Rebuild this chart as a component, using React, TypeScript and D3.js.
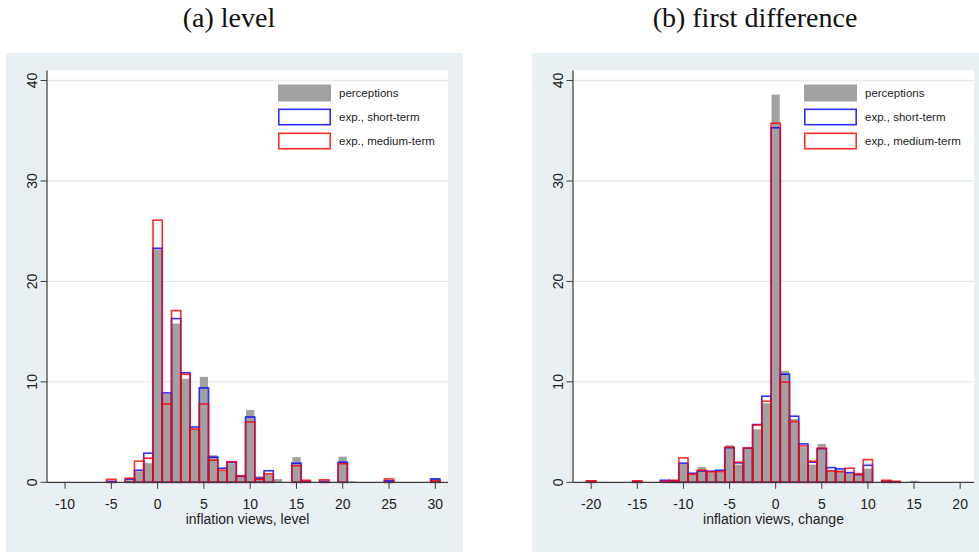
import { useEffect, useRef } from "react";
import * as d3 from "d3";

// level histogram (percent), bins centred on integers
const levelBins = [-5, -4, -3, -2, -1, 0, 1, 2, 3, 4, 5, 6, 7, 8, 9, 10, 11, 12, 13, 14, 15, 16, 17, 18, 19, 20, 21, 22, 23, 24, 25, 26, 27, 28, 29, 30];
const levelPerceptions = [0, 0, 0.2, 1.1, 1.9, 23.2, 8.8, 15.8, 10.3, 5.3, 10.5, 2.7, 1.15, 1.9, 0.55, 7.2, 0.6, 0.8, 0.33, 0, 2.5, 0.1, 0, 0, 0, 2.55, 0.1, 0, 0, 0, 0.15, 0, 0, 0, 0, 0.43];
const levelShort = [0.1, 0, 0.3, 1.2, 2.9, 23.3, 8.9, 16.3, 10.9, 5.5, 9.4, 2.5, 1.4, 2.0, 0.6, 6.5, 0.4, 1.15, 0, 0, 1.9, 0.1, 0, 0.1, 0, 2.0, 0, 0, 0, 0, 0.15, 0, 0, 0, 0, 0.33];
const levelMedium = [0.3, 0, 0.4, 2.1, 2.4, 26.1, 7.8, 17.1, 10.75, 5.3, 7.8, 2.2, 1.2, 2.05, 0.65, 6.0, 0.3, 0.85, 0, 0, 1.65, 0.2, 0, 0.25, 0, 1.85, 0, 0, 0, 0, 0.33, 0, 0, 0, 0, 0.15];
const levelTicks = [-10, -5, 0, 5, 10, 15, 20, 25, 30];

// first-difference histogram
const changeBins = [-20, -19, -18, -17, -16, -15, -14, -13, -12, -11, -10, -9, -8, -7, -6, -5, -4, -3, -2, -1, 0, 1, 2, 3, 4, 5, 6, 7, 8, 9, 10, 11, 12, 13, 14, 15, 16, 17, 18, 19, 20];
const changePerceptions = [0, 0, 0, 0, 0, 0, 0, 0, 0.1, 0.1, 1.83, 0.73, 1.53, 0.96, 1.0, 3.69, 1.76, 3.35, 5.28, 7.87, 38.6, 11.1, 6.3, 3.5, 1.76, 3.82, 1.23, 1.2, 0.9, 0.96, 1.36, 0, 0.1, 0, 0, 0.15, 0, 0, 0, 0, 0];
const changeShort = [0.1, 0, 0, 0, 0, 0.05, 0, 0, 0.2, 0.15, 1.9, 0.9, 1.13, 1.1, 1.2, 3.45, 1.93, 3.39, 5.75, 8.57, 35.3, 10.76, 6.58, 3.82, 2.0, 3.35, 1.46, 1.33, 0.96, 0.76, 1.69, 0, 0.1, 0.05, 0, 0, 0, 0, 0, 0, 0];
const changeMedium = [0.15, 0, 0, 0, 0, 0.15, 0, 0, 0.1, 0.2, 2.43, 0.8, 1.2, 1.03, 1.06, 3.49, 2.0, 3.42, 5.71, 8.07, 35.75, 9.97, 6.05, 3.62, 2.09, 3.39, 1.13, 1.06, 1.4, 0.8, 2.26, 0, 0.2, 0.1, 0, 0, 0, 0, 0, 0, 0];
const changeTicks = [-20, -15, -10, -5, 0, 5, 10, 15, 20];

const yTicks = [0, 10, 20, 30, 40];
const legendLabels = ["perceptions", "exp., short-term", "exp., medium-term"];

const SANS = "'Liberation Sans', Arial, sans-serif";
const GRAY = "#a1a1a1";
const BLUE = "#0000ff";
const RED = "#ff0000";

interface PanelProps {
  ox: number;
  title: string;
  xTitle: string;
  domain: [number, number];
  ticks: number[];
  bins: number[];
  perceptions: number[];
  shortTerm: number[];
  mediumTerm: number[];
}

function HistPanel({ ox, title, xTitle, domain, ticks, bins, perceptions, shortTerm, mediumTerm }: PanelProps) {
  const gRef = useRef<SVGGElement>(null);

  useEffect(() => {
    if (!gRef.current) return;
    const g = d3.select(gRef.current);
    g.selectAll("*").remove();

    const left = 47, right = 448, top = 70.5, bottom = 482.3;

    const x = d3.scaleLinear().domain(domain).range([left, right]);
    const y = d3.scaleLinear().domain([0, 41]).range([bottom, top]);

    // title
    g.append("text")
      .attr("x", 229)
      .attr("y", 26.5)
      .attr("text-anchor", "middle")
      .attr("font-family", "'Liberation Serif', 'Times New Roman', serif")
      .attr("font-size", 28)
      .attr("fill", "#111")
      .text(title);

    // graph region + plot region
    g.append("rect").attr("x", 6).attr("y", 53).attr("width", 457).attr("height", 499).attr("fill", "#e9f0f3");
    g.append("rect").attr("x", left).attr("y", top).attr("width", right - left).attr("height", bottom - top).attr("fill", "#fff");

    // gridlines
    g.selectAll("line.grid")
      .data(yTicks.slice(1))
      .join("line")
      .attr("x1", left)
      .attr("x2", right)
      .attr("y1", (d) => y(d))
      .attr("y2", (d) => y(d))
      .attr("stroke", "#e3ebee")
      .attr("stroke-width", 1.4);

    const cells = bins.map((b, i) => ({ b, p: perceptions[i], s: shortTerm[i], m: mediumTerm[i] }));
    const x0 = (b: number) => x(b - 0.5);
    const w = (b: number) => x(b + 0.5) - x(b - 0.5);

    g.append("g")
      .selectAll("rect")
      .data(cells.filter((c) => c.p > 0))
      .join("rect")
      .attr("x", (c) => x0(c.b) + 0.5)
      .attr("width", (c) => w(c.b) - 1)
      .attr("y", (c) => y(c.p))
      .attr("height", (c) => y(0) - y(c.p))
      .attr("fill", GRAY);

    const outline = (key: "s" | "m", color: string) =>
      g.append("g")
        .selectAll("rect")
        .data(cells.filter((c) => c[key] > 0))
        .join("rect")
        .attr("x", (c) => x0(c.b))
        .attr("width", (c) => w(c.b))
        .attr("y", (c) => y(c[key]))
        .attr("height", (c) => y(0) - y(c[key]))
        .attr("fill", "none")
        .attr("stroke", color)
        .attr("stroke-opacity", 0.82)
        .attr("stroke-width", 1.6);

    outline("s", BLUE);
    outline("m", RED);

    // axes
    const axisColor = "#3a3a3a";
    g.append("line").attr("x1", left).attr("x2", left).attr("y1", top).attr("y2", bottom).attr("stroke", axisColor).attr("stroke-width", 1.2);
    g.append("line").attr("x1", left).attr("x2", right).attr("y1", bottom).attr("y2", bottom).attr("stroke", axisColor).attr("stroke-width", 1.2);

    g.selectAll("line.yt")
      .data(yTicks)
      .join("line")
      .attr("x1", left - 6.5)
      .attr("x2", left)
      .attr("y1", (d) => y(d))
      .attr("y2", (d) => y(d))
      .attr("stroke", axisColor);

    g.selectAll("text.yl")
      .data(yTicks)
      .join("text")
      .attr("transform", (d) => `translate(${left - 10},${y(d)}) rotate(-90)`)
      .attr("text-anchor", "middle")
      .attr("font-family", SANS)
      .attr("font-size", 14)
      .attr("fill", "#222")
      .text((d) => d);

    g.selectAll("line.xt")
      .data(ticks)
      .join("line")
      .attr("x1", (d) => x(d))
      .attr("x2", (d) => x(d))
      .attr("y1", bottom)
      .attr("y2", bottom + 6.5)
      .attr("stroke", axisColor);

    g.selectAll("text.xl")
      .data(ticks)
      .join("text")
      .attr("x", (d) => x(d))
      .attr("y", 509)
      .attr("text-anchor", "middle")
      .attr("font-family", SANS)
      .attr("font-size", 14)
      .attr("fill", "#222")
      .text((d) => d);

    g.append("text")
      .attr("x", (left + right) / 2)
      .attr("y", 524)
      .attr("text-anchor", "middle")
      .attr("font-family", SANS)
      .attr("font-size", 14)
      .attr("fill", "#222")
      .text(xTitle);

    // legend
    const lx = left + 231;
    const legend = g.append("g");
    legendLabels.forEach((label, i) => {
      const ly = 84.5 + i * 24;
      if (i === 0) {
        legend.append("rect").attr("x", lx).attr("y", ly).attr("width", 53).attr("height", 17).attr("fill", GRAY);
      } else {
        legend.append("rect")
          .attr("x", lx + 0.8)
          .attr("y", ly + 0.8)
          .attr("width", 51.4)
          .attr("height", 15.4)
          .attr("fill", "#fff")
          .attr("stroke", i === 1 ? BLUE : RED)
          .attr("stroke-opacity", 0.82)
          .attr("stroke-width", 1.6);
      }
      legend.append("text")
        .attr("x", lx + 61)
        .attr("y", ly + 8.5)
        .attr("dy", "0.35em")
        .attr("font-family", SANS)
        .attr("font-size", 11.5)
        .attr("fill", "#222")
        .text(label);
    });
  }, [ox, title, xTitle, domain, ticks, bins, perceptions, shortTerm, mediumTerm]);

  return <g ref={gRef} transform={`translate(${ox},0)`} />;
}

export default function App() {
  return (
    <svg
      width={979}
      height={552}
      style={{ position: "absolute", left: 0, top: 0, background: "#fff" }}
    >
      <HistPanel
        ox={0}
        title="(a) level"
        xTitle="inflation views, level"
        domain={[-11.95, 31.37]}
        ticks={levelTicks}
        bins={levelBins}
        perceptions={levelPerceptions}
        shortTerm={levelShort}
        mediumTerm={levelMedium}
      />
      <HistPanel
        ox={526}
        title="(b) first difference"
        xTitle="inflation views, change"
        domain={[-21.97, 21.5]}
        ticks={changeTicks}
        bins={changeBins}
        perceptions={changePerceptions}
        shortTerm={changeShort}
        mediumTerm={changeMedium}
      />
    </svg>
  );
}
